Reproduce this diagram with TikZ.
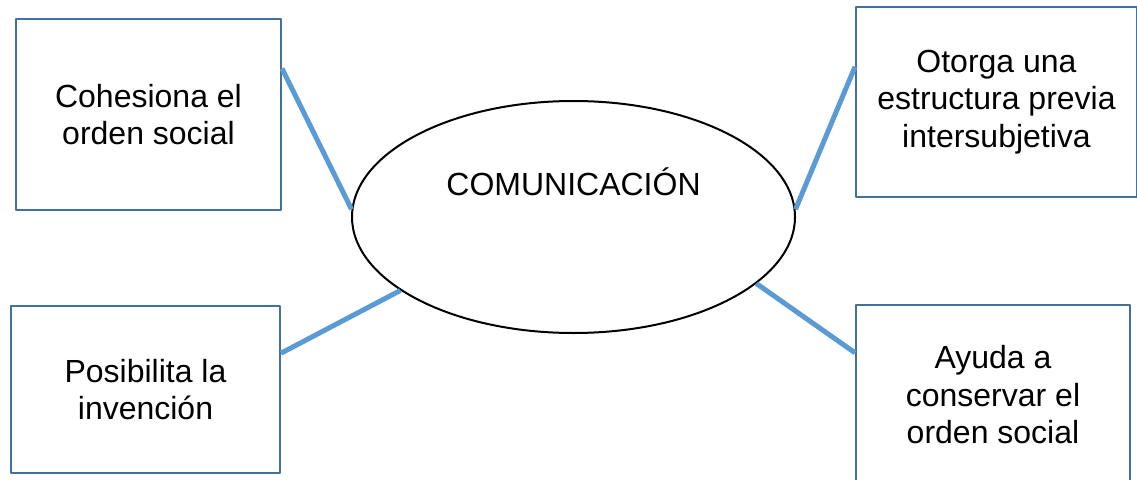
\documentclass[tikz,border=0pt]{standalone}
\usepackage{fontspec}
\setmainfont{Liberation Sans}
\definecolor{lineablue}{HTML}{5B9BD5}
\definecolor{cajablue}{HTML}{41719C}
\usetikzlibrary{shapes.geometric}
\begin{document}
\begin{tikzpicture}[x=1pt, y=-1pt, font=\fontsize{32}{37.5}\selectfont, line join=round,
		caja/.style={draw=cajablue, line width=2pt, inner sep=0pt, align=center},
		enlace/.style={draw=lineablue, line width=5pt}]
		\useasboundingbox (0,0) rectangle (1137,479);
		% centro
		\node[ellipse, draw, line width=2pt, inner sep=0pt, minimum width=443, minimum height=232] (comm) at (573.5,217) {};
		\node[anchor=base] (commtxt) at (573.5,195) {COMUNICACIÓN};
		% cajas
		\node[caja, minimum width=265, minimum height=191] (cohes) at (148.5,114.5) {Cohesiona el\\orden social};
		\node[caja, minimum width=281, minimum height=190] (otorga) at (996.5,102) {Otorga una\\estructura previa\\intersubjetiva};
		\node[caja, minimum width=269, minimum height=167] (posib) at (145.5,389.5) {Posibilita la\\invención};
		\node[caja, minimum width=274, minimum height=180] (ayuda) at (993,395) {Ayuda a\\conservar el\\orden social};
		% enlaces
		\draw[enlace] (cohes.19.3)--(comm.178);
		\draw[enlace] (otorga.166.7)--(comm.2);
		\draw[enlace] (posib.15.2)--(comm.203.3);
		\draw[enlace] (ayuda.163.6)--(comm.340.6);
		
		\end{tikzpicture}
\end{document}
